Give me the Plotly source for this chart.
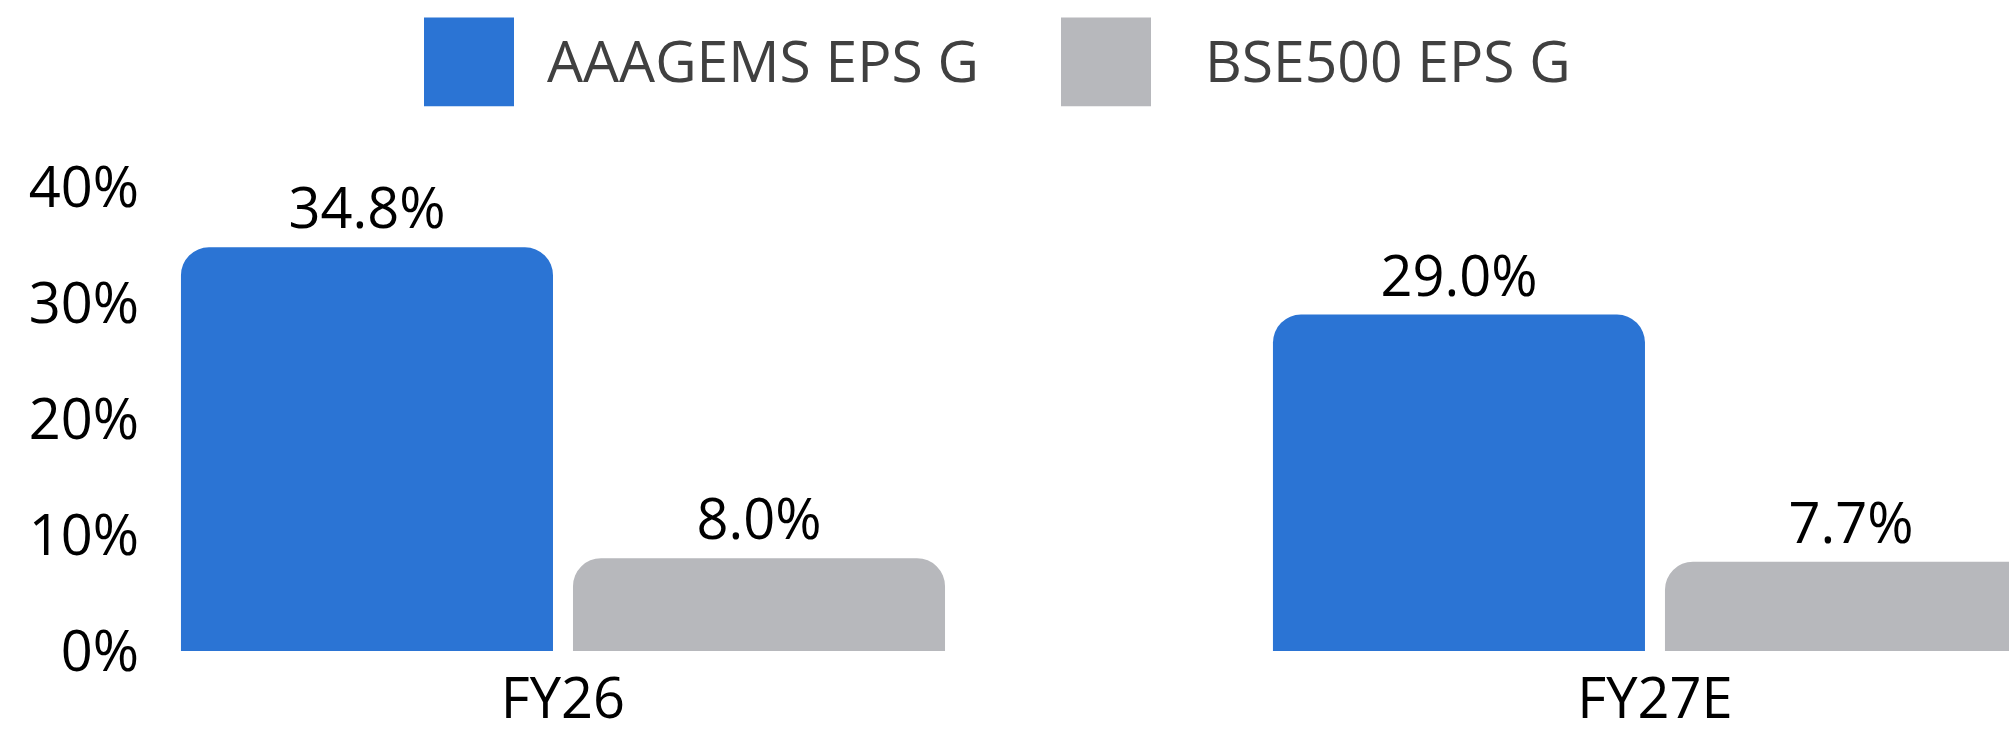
import plotly.graph_objects as go

# ---- data ----
categories = ["FY26", "FY27E"]
series_names = ["AAAGEMS EPS G", "BSE500 EPS G"]
aaagems_eps_g = [34.8, 29.0]
bse500_eps_g = [8.0, 7.7]
y_tick_values = [0, 10, 20, 30, 40]
y_tick_labels = ["0%", "10%", "20%", "30%", "40%"]

# ---- style ----
BLUE = "#2B74D4"
GRAY = "#B7B8BC"
FONT = "Open Sans"
W, H = 2009, 734
ML, MR, MT, MB = 150, 0, 187, 76
PW = W - ML - MR
PH = H - MT - MB


def px_to_paper_x(px):
    return (px - ML) / PW


def px_to_paper_y(py):
    return (H - MB - py) / PH


fig = go.Figure()
for name, vals, col in [(series_names[0], aaagems_eps_g, BLUE),
                        (series_names[1], bse500_eps_g, GRAY)]:
    fig.add_trace(go.Bar(
        x=categories, y=vals, name=name,
        marker=dict(color=col, cornerradius=28, line=dict(width=0)),
        texttemplate="%{y:.1f}%", textposition="outside",
        textfont=dict(family=FONT, size=56, color="#000000"),
        cliponaxis=False, showlegend=False, hoverinfo="skip",
    ))

# custom legend (large squares)
legend_items = [(series_names[0], BLUE, 424, 545), (series_names[1], GRAY, 1061, 1203)]
shapes = []
annotations = []
for name, col, sx, tx in legend_items:
    shapes.append(dict(type="rect", xref="paper", yref="paper",
                       x0=px_to_paper_x(sx), x1=px_to_paper_x(sx + 90),
                       y0=px_to_paper_y(105), y1=px_to_paper_y(15),
                       fillcolor=col, line=dict(width=0), layer="above"))
    annotations.append(dict(text=name, xref="paper", yref="paper",
                            x=px_to_paper_x(tx), y=px_to_paper_y(58),
                            xanchor="left", yanchor="middle", showarrow=False,
                            font=dict(family=FONT, size=57, color="#404040")))

fig.update_layout(
    width=W, height=H,
    margin=dict(l=ML, r=MR, t=MT, b=MB, pad=0),
    paper_bgcolor="white", plot_bgcolor="white",
    barmode="group", bargap=0.282, bargroupgap=0.051,
    font=dict(family=FONT, color="#000000"),
    shapes=shapes, annotations=annotations,
    showlegend=False,
    xaxis=dict(range=[-0.3782, 1.3242], showgrid=False, zeroline=False,
               showline=False, ticks="", ticklabelstandoff=10,
               tickfont=dict(family=FONT, size=56, color="#000000")),
    yaxis=dict(range=[0, 40], tickvals=y_tick_values, ticktext=y_tick_labels,
               showgrid=False, zeroline=False, showline=False, ticks="",
               ticklabelstandoff=10,
               tickfont=dict(family=FONT, size=56, color="#000000")),
)

fig.write_html(
    "out.html",
    config={"displayModeBar": False},
    post_script="document.body.style.margin='0';document.body.style.overflow='hidden';",
)
